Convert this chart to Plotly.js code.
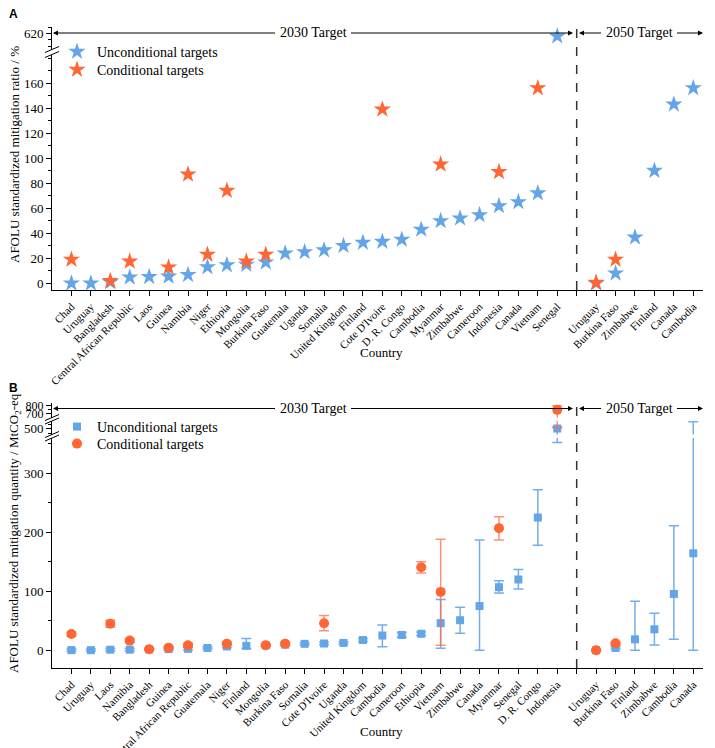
<!DOCTYPE html>
<html><head><meta charset="utf-8">
<script src="https://cdn.plot.ly/plotly-3.0.1.min.js"></script>
<style>html,body{margin:0;padding:0;background:#fff;} #chart{width:715px;height:748px;}</style>
</head><body><div id="chart"></div>
<script>
// ---------- Panel A data (standardized mitigation ratio, %) ----------
const countriesA2030 = ["Chad","Uruguay","Bangladesh","Central African Republic","Laos","Guinea","Namibia","Niger","Ethiopia","Mongolia","Burkina Faso","Guatemala","Uganda","Somalia","United Kingdom","Finland","Cote D'Ivoire","D. R. Congo","Cambodia","Myanmar","Zimbabwe","Cameroon","Indonesia","Canada","Vietnam","Senegal"];
const uncondA2030 = [0,0,1,4.8,5.2,5.5,6.8,13,14.6,15,16.8,24,25,26.5,30,32.5,33.3,35,43,49.8,52,54.6,61.8,65,72,618];
const condA2030   = [19,null,2,17.5,null,12.8,87,23,74,17.5,23,null,null,null,null,null,139,null,null,95,null,null,89,null,156,null];
const countriesA2050 = ["Uruguay","Burkina Faso","Zimbabwe","Finland","Canada","Cambodia"];
const uncondA2050 = [0,8,36.7,90,143,156];
const condA2050   = [0.5,19,null,null,null,null];

// ---------- Panel B data (standardized mitigation quantity, MtCO2-eq) ----------
const countriesB2030 = ["Chad","Uruguay","Laos","Namibia","Bangladesh","Guinea","Central African Republic","Guatemala","Niger","Finland","Mongolia","Burkina Faso","Somalia","Cote D'Ivoire","Uganda","United Kingdom","Cambodia","Cameroon","Ethiopia","Vietnam","Zimbabwe","Canada","Myanmar","Senegal","D. R. Congo","Indonesia"];
const uncondB2030   = [0.3,0.2,1,1,1.5,2,2.5,4,6.5,7.5,8.5,9.5,11,11.5,12.5,17.5,25,26,28,46,51,75,107,120,225,500];
const uncondB2030lo = [-1.5,-1.5,-1,-1,0,0,0,2,4.5,3,6.5,7.5,9,9.5,10.5,15,6,22,25,3.5,29,0,97,104,178,352];
const uncondB2030hi = [2,2,3,3,3,4,4.5,6,8.5,20,10.5,11.5,13,13.5,14.5,20,43,30,31,86,73,187,118,137,272,520];
const condB2030   = [27.7,null,45,16.4,1.7,4.5,8.5,null,11.3,null,8.5,11.3,null,45.8,null,null,null,null,140.7,99,null,null,207,null,null,750];
const condB2030lo = [24,null,39,14,0,2.5,5,null,9,null,6.5,9,null,33,null,null,null,null,131,8.5,null,null,187,null,null,505];
const condB2030hi = [31,null,51,19,3.5,6.5,12,null,13.5,null,10.5,14,null,59,null,null,null,null,150,188,null,null,226.5,null,null,800];
const countriesB2050 = ["Uruguay","Burkina Faso","Finland","Zimbabwe","Cambodia","Canada"];
const uncondB2050   = [0,4,18.6,35.6,95.5,164.4];
const uncondB2050lo = [-1,2,0,9,18.6,0];
const uncondB2050hi = [1,6,83,63,211,575];
const condB2050   = [0,11.9,null,null,null,null];
const condB2050lo = [-1.5,9,null,null,null,null];
const condB2050hi = [1.5,14,null,null,null,null];

const periodLabels = ["2030 Target","2050 Target"];

// ---------- helpers ----------
const W=715,H=748,ML=52,MR=12;
const px2x = p => (p-ML)/(W-ML-MR);
const px2y = p => 1 - p/H;
const BLUE='#64A5E8', ORANGE='#FF6634', SERIF='Liberation Serif, Times New Roman, serif';

function positions(n2030, n2050){
  const xs=[]; for(let i=0;i<n2030;i++) xs.push(i);
  for(let i=0;i<n2050;i++) xs.push(n2030+1+i);
  return xs;
}
const xA = positions(countriesA2030.length, countriesA2050.length);
const xB = positions(countriesB2030.length, countriesB2050.length);
const gapA = countriesA2030.length, gapB = countriesB2030.length;
const tickTextA = countriesA2030.concat([""], countriesA2050);
const tickTextB = countriesB2030.concat([""], countriesB2050);
const tickValsA = tickTextA.map((_,i)=>i), tickValsB = tickTextB.map((_,i)=>i);

const uA = uncondA2030.concat(uncondA2050), cA = condA2030.concat(condA2050);
const uB = uncondB2030.concat(uncondB2050), uBlo = uncondB2030lo.concat(uncondB2050lo), uBhi = uncondB2030hi.concat(uncondB2050hi);
const cB = condB2030.concat(condB2050), cBlo = condB2030lo.concat(condB2050lo), cBhi = condB2030hi.concat(condB2050hi);
const plus = (v,hi)=>v.map((d,i)=>d==null?null:hi[i]-d);
const minus = (v,lo)=>v.map((d,i)=>d==null?null:d-lo[i]);

const traces=[];
['y','y2'].forEach(ya=>{
  traces.push({x:xA,y:uA,xaxis:'x',yaxis:ya,type:'scatter',mode:'markers',name:'Unconditional targets',
    marker:{symbol:'star',size:13,color:BLUE},showlegend:ya==='y',legend:'legend',hoverinfo:'skip'});
  traces.push({x:xA,y:cA,xaxis:'x',yaxis:ya,type:'scatter',mode:'markers',name:'Conditional targets',
    marker:{symbol:'star',size:13,color:ORANGE},showlegend:ya==='y',legend:'legend3',hoverinfo:'skip'});
});
['y3','y4','y5'].forEach(ya=>{
  traces.push({x:xB,y:uB,xaxis:'x2',yaxis:ya,type:'scatter',mode:'markers',name:'Unconditional targets',
    marker:{symbol:'square',size:8,color:BLUE},
    error_y:{type:'data',symmetric:false,array:plus(uB,uBhi),arrayminus:minus(uB,uBlo),color:'rgba(100,165,232,0.9)',thickness:1.5,width:5},
    showlegend:ya==='y3',legend:'legend2',hoverinfo:'skip'});
  traces.push({x:xB,y:cB,xaxis:'x2',yaxis:ya,type:'scatter',mode:'markers',name:'Conditional targets',
    marker:{symbol:'circle',size:10,color:ORANGE},
    error_y:{type:'data',symmetric:false,array:plus(cB,cBhi),arrayminus:minus(cB,cBlo),color:'rgba(255,110,70,0.75)',thickness:1.5,width:5},
    showlegend:ya==='y3',legend:'legend4',hoverinfo:'skip'});
});

const tickFontY={family:SERIF,size:13,color:'#000'};
const baseY = {showline:true,linecolor:'#000',linewidth:1,ticks:'outside',ticklen:5,tickcolor:'#000',
  showgrid:false,zeroline:false,tickfont:tickFontY,anchor:'x',tickmode:'array'};
const baseX = {showline:true,linecolor:'#000',linewidth:1,ticks:'outside',ticklen:5,tickcolor:'#000',
  showgrid:false,zeroline:false,tickangle:-45,tickfont:{family:SERIF,size:11,color:'#000'},tickmode:'array',range:[-1,32.5]};

function leg(topPx){
  return {x:px2x(57),y:px2y(topPx),xanchor:'left',yanchor:'top',bgcolor:'rgba(0,0,0,0)',
    font:{family:SERIF,size:14,color:'#000'},tracegroupgap:0};
}
const layout={
  width:W,height:H,margin:{l:ML,r:MR,t:0,b:0,pad:0,autoexpand:false},
  paper_bgcolor:'#fff',plot_bgcolor:'rgba(0,0,0,0)',
  xaxis:Object.assign({},baseX,{domain:[0,1],anchor:'y',tickvals:tickValsA,ticktext:tickTextA}),
  yaxis:Object.assign({},baseY,{domain:[px2y(290),px2y(54.5)],range:[-5.35,182.8],
    tickvals:[0,20,40,60,80,100,120,140,160],minor:{tickmode:'array',tickvals:[10,30,50,70,90,110,130,150,170,180],ticks:'outside',ticklen:3,tickcolor:'#000'}}),
  yaxis2:Object.assign({},baseY,{domain:[px2y(49.5),px2y(27.3)],range:[607.4,625.1],
    tickvals:[620],minor:{tickmode:'array',tickvals:[610,615,625],ticks:'outside',ticklen:3,tickcolor:'#000'}}),
  xaxis2:Object.assign({},baseX,{domain:[0,1],anchor:'y3',tickvals:tickValsB,ticktext:tickTextB}),
  yaxis3:Object.assign({},baseY,{anchor:'x2',domain:[px2y(668),px2y(438)],range:[-30,359.8],
    tickvals:[0,100,200,300],minor:{tickmode:'array',tickvals:[50,150,250,350],ticks:'outside',ticklen:3,tickcolor:'#000'}}),
  yaxis4:Object.assign({},baseY,{anchor:'x2',domain:[px2y(434.5),px2y(421)],range:[433.3,583.3],
    tickvals:[500],minor:{tickmode:'array',tickvals:[450,550],ticks:'outside',ticklen:3,tickcolor:'#000'}}),
  yaxis5:Object.assign({},baseY,{anchor:'x2',domain:[px2y(417.5),px2y(403)],range:[655.6,834.6],
    tickfont:{family:SERIF,size:12,color:'#000'},
    tickvals:[700,800],minor:{tickmode:'array',tickvals:[750],ticks:'outside',ticklen:3,tickcolor:'#000'}}),
  legend:leg(36), legend3:leg(54), legend2:leg(411), legend4:leg(428),
  shapes:[],annotations:[]
};

// dashed separators
layout.shapes.push({type:'line',xref:'x',yref:'paper',x0:gapA,x1:gapA,y0:px2y(290),y1:px2y(25),line:{color:'#333',width:1.5,dash:'dash'}});
layout.shapes.push({type:'line',xref:'x2',yref:'paper',x0:gapB,x1:gapB,y0:px2y(668),y1:px2y(401),line:{color:'#333',width:1.5,dash:'dash'}});
// axis break marks
function brk(yc){ layout.shapes.push({type:'line',xref:'paper',yref:'paper',x0:px2x(45),x1:px2x(59),y0:px2y(yc+3),y1:px2y(yc-3),line:{color:'#000',width:1}}); }
[49.5,54.5,417.5,421,434.5,438].forEach(brk);

// period arrows
function arrowPair(text,yPx,leftPx,rightPx,centerPx){
  const common={xref:'paper',yref:'paper',y:px2y(yPx),ay:0,axref:'pixel',ayref:'pixel',text:text,showarrow:true,
    arrowhead:2,arrowsize:1,arrowwidth:1,arrowcolor:'#000',borderpad:4,standoff:0,startstandoff:0};
  layout.annotations.push(Object.assign({},common,{x:px2x(leftPx),ax:centerPx-leftPx,font:{family:SERIF,size:14,color:'#000'}}));
  layout.annotations.push(Object.assign({},common,{x:px2x(rightPx),ax:centerPx-rightPx,font:{family:SERIF,size:14,color:'rgba(0,0,0,0)'}}));
}
arrowPair(periodLabels[0],33,53,573,313);
arrowPair(periodLabels[1],33,579,703,639);
arrowPair(periodLabels[0],408.5,53,573,313);
arrowPair(periodLabels[1],408.5,579,703,639);

function txt(t,xp,yp,size,angle,family){
  layout.annotations.push({xref:'paper',yref:'paper',x:px2x(xp),y:px2y(yp),text:t,showarrow:false,textangle:angle||0,
    xanchor:'center',yanchor:'middle',font:{family:family||SERIF,size:size,color:'#000'}});
}
txt('AFOLU standardized mitigation ratio / %',14,155,13,-90);
txt('AFOLU standardized mitigation quantity / MtCO<sub>2</sub>-eq',14,533,13,-90);
txt('Country',381,352,13);
txt('Country',381,731,13);
txt('<b>A</b>',13,14,12,0,'Liberation Sans, Arial, sans-serif');
txt('<b>B</b>',13,388,12,0,'Liberation Sans, Arial, sans-serif');

Plotly.newPlot('chart',traces,layout,{displayModeBar:false,staticPlot:true});
</script></body></html>
